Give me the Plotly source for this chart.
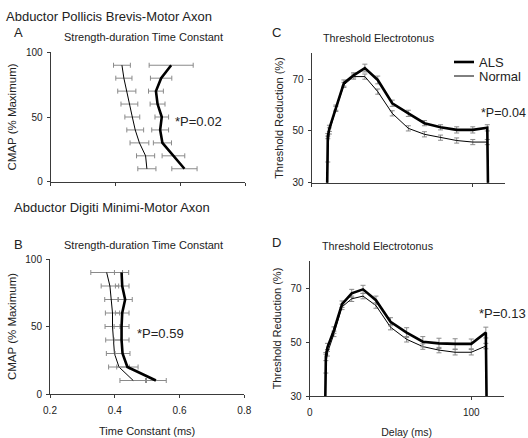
import plotly.graph_objects as go

W, H = 528, 438

# ---------------- data ----------------
cmap_levels = [10, 20, 30, 40, 50, 60, 70, 80, 90]

# Panel A: Abductor Pollicis Brevis, strength-duration time constant (ms)
apb_als = [0.613, 0.579, 0.545, 0.538, 0.543, 0.530, 0.525, 0.541, 0.572]
apb_als_sd = [0.039, 0.035, 0.028, 0.026, 0.021, 0.023, 0.023, 0.033, 0.068]
apb_norm = [0.497, 0.493, 0.474, 0.461, 0.452, 0.443, 0.435, 0.426, 0.420]
apb_norm_sd = [0.028, 0.028, 0.029, 0.026, 0.023, 0.026, 0.028, 0.025, 0.026]

# Panel B: Abductor Digiti Minimi, strength-duration time constant (ms)
adm_als = [0.527, 0.439, 0.424, 0.421, 0.421, 0.423, 0.432, 0.423, 0.421]
adm_als_sd = [0.032, 0.033, 0.023, 0.023, 0.023, 0.021, 0.022, 0.021, 0.022]
adm_norm = [0.457, 0.413, 0.399, 0.396, 0.393, 0.393, 0.390, 0.385, 0.375]
adm_norm_sd = [0.041, 0.032, 0.025, 0.024, 0.023, 0.022, 0.021, 0.027, 0.049]

# Threshold electrotonus delays (ms)
delays = [9, 10, 11, 15, 20, 26, 33, 41, 50, 60, 70, 80, 90, 100, 109, 110]

# Panel C: APB threshold electrotonus (% threshold reduction)
te_apb_als = [0, 48, 51, 59, 68.5, 71.5, 74.3, 69.7, 60.7, 56.8, 53.0, 51.4, 50.4, 50.4, 51.2, 0]
te_apb_als_sd = [0, 1.0, 1.2, 1.0, 1.2, 1.0, 1.5, 1.5, 1.2, 1.2, 1.0, 1.0, 1.2, 1.2, 1.2, 0]
te_apb_norm = [0, 43, 50, 58.5, 67.8, 71.0, 71.0, 65.2, 56.8, 51.0, 48.7, 47.4, 46.3, 45.7, 45.7, 0]
te_apb_norm_sd = [0, 5.0, 1.2, 1.0, 1.0, 1.0, 1.0, 1.0, 1.0, 1.0, 1.0, 1.0, 1.0, 1.0, 1.0, 0]

# Panel D: ADM threshold electrotonus (% threshold reduction)
te_adm_als = [0, 44.6, 48, 54.4, 64, 68, 69.5, 65.5, 57.5, 53.5, 50.1, 49.5, 49.3, 49.3, 53.5, 0]
te_adm_als_sd = [0, 1.5, 1.5, 1.2, 1.2, 1.5, 1.5, 1.5, 1.5, 1.8, 1.9, 1.9, 1.9, 1.8, 2.0, 0]
te_adm_norm = [0, 42, 46, 53, 63, 66, 67, 63.5, 55.5, 51.0, 48.3, 47.0, 46.2, 46.2, 48.5, 0]
te_adm_norm_sd = [0, 3.5, 1.2, 1.0, 1.0, 1.0, 1.0, 1.0, 1.0, 1.0, 1.0, 1.0, 1.0, 1.0, 1.0, 0]

groups = ["ALS", "Normal"]
p_values = ["*P=0.02", "*P=0.59", "*P=0.04", "*P=0.13"]

# ---------------- figure ----------------
FONT = "Liberation Sans, Arial, sans-serif"
ERR_COL = "#8a8a8a"
AX_COL = "#3a3a3a"
TXT = "#222"
THICK, THIN = 2.6, 1.0


def px(x):
    return x / W


def py(y):
    return 1 - y / H


fig = go.Figure()


def sd_trace(xv, yv, sd, width, axes, name, horizontal):
    xa, ya = axes
    kw = dict(type="data", array=sd, visible=True, color=ERR_COL, thickness=1, width=2.5)
    t = go.Scatter(
        x=xv, y=yv, mode="lines", name=name,
        line=dict(color="black", width=width),
        xaxis=xa, yaxis=ya, showlegend=False,
    )
    if horizontal:
        t.error_x = kw
    else:
        t.error_y = kw
    fig.add_trace(t)


# A
sd_trace(apb_norm, cmap_levels, apb_norm_sd, THIN, ("x", "y"), groups[1], True)
sd_trace(apb_als, cmap_levels, apb_als_sd, THICK, ("x", "y"), groups[0], True)
# B
sd_trace(adm_norm, cmap_levels, adm_norm_sd, THIN, ("x2", "y2"), groups[1], True)
sd_trace(adm_als, cmap_levels, adm_als_sd, THICK, ("x2", "y2"), groups[0], True)
# C
sd_trace(delays, te_apb_norm, te_apb_norm_sd, THIN, ("x3", "y3"), groups[1], False)
sd_trace(delays, te_apb_als, te_apb_als_sd, THICK, ("x3", "y3"), groups[0], False)
# D
sd_trace(delays, te_adm_norm, te_adm_norm_sd, THIN, ("x4", "y4"), groups[1], False)
sd_trace(delays, te_adm_als, te_adm_als_sd, THICK, ("x4", "y4"), groups[0], False)

common_ax = dict(
    showline=True, linecolor=AX_COL, linewidth=1, ticks="outside", ticklen=3,
    tickcolor=AX_COL, showgrid=False, zeroline=False, automargin=False,
    tickfont=dict(family=FONT, size=10, color=TXT),
)
tc_ticks = [0.2, 0.4, 0.6, 0.8]

fig.update_layout(
    width=W, height=H, margin=dict(l=0, r=0, t=0, b=0, autoexpand=False),
    paper_bgcolor="white", plot_bgcolor="white",
    font=dict(family=FONT, color=TXT),
    showlegend=False,
    xaxis=dict(domain=[px(50.7), px(245)], range=[0.2, 0.8], tickvals=tc_ticks,
               showticklabels=False, anchor="y", **common_ax),
    yaxis=dict(domain=[py(181.7), py(52.3)], range=[0, 100], tickvals=[0, 50, 100],
               anchor="x", ticklabelstandoff=2,
               title=dict(text="CMAP (% Maximum)", standoff=6,
                          font=dict(family=FONT, size=11.5)), **common_ax),
    xaxis2=dict(domain=[px(50), px(244.3)], range=[0.2, 0.8], tickvals=tc_ticks,
                ticktext=["0.2", "0.4", "0.6", "0.8"], anchor="y2", ticklabelstandoff=4,
                title=dict(text="Time Constant (ms)", standoff=12,
                           font=dict(family=FONT, size=11)), **common_ax),
    yaxis2=dict(domain=[py(394), py(259)], range=[0, 100], tickvals=[0, 50, 100],
                anchor="x2", ticklabelstandoff=2,
                title=dict(text="CMAP (% Maximum)", standoff=6,
                           font=dict(family=FONT, size=11.5)), **common_ax),
    xaxis3=dict(domain=[px(311.7), px(505)], range=[0, 120], tickvals=[0, 100],
                showticklabels=False, anchor="y3", **common_ax),
    yaxis3=dict(domain=[py(182.7), py(53.3)], range=[30, 80], tickvals=[30, 50, 70],
                anchor="x3", ticklabelstandoff=2,
                title=dict(text="Threshold Reduction (%)", standoff=6,
                           font=dict(family=FONT, size=11)), **common_ax),
    xaxis4=dict(domain=[px(309.7), px(503.6)], range=[0, 120], tickvals=[0, 100],
                anchor="y4", ticklabelstandoff=4,
                title=dict(text="Delay (ms)", standoff=12,
                           font=dict(family=FONT, size=10.5)), **common_ax),
    yaxis4=dict(domain=[py(396), py(261)], range=[30, 80], tickvals=[30, 50, 70],
                anchor="x4", ticklabelstandoff=2,
                title=dict(text="Threshold Reduction (%)", standoff=6,
                           font=dict(family=FONT, size=11)), **common_ax),
)


def label(text, x, y, size, anchor="left"):
    fig.add_annotation(text=text, x=px(x), y=py(y), xref="paper", yref="paper",
                       xanchor=anchor, yanchor="middle", showarrow=False,
                       font=dict(family=FONT, size=size, color=TXT))


label("Abductor Pollicis Brevis-Motor Axon", 4, 16, 13)
label("Abductor Digiti Minimi-Motor Axon", 12, 207, 13)
label("A", 18, 33, 13, "center")
label("B", 18, 244, 13, "center")
label("C", 276, 33, 13, "center")
label("D", 276, 242, 13, "center")
label("Strength-duration Time Constant", 62, 37, 11)
label("Strength-duration Time Constant", 62, 245, 11)
label("Threshold Electrotonus", 321, 38, 10.8)
label("Threshold Electrotonus", 320, 246, 10.8)
label(p_values[0], 172.5, 122, 13)
label(p_values[1], 135, 333, 13)
label(p_values[2], 479, 113, 12.5)
label(p_values[3], 477, 313, 13)

# legend key for panel C (ALS thick, Normal thin)
for name, lw, yk in zip(groups, [THICK, THIN], [62, 76]):
    fig.add_shape(type="line", xref="paper", yref="paper",
                  x0=px(454), x1=px(474), y0=py(yk), y1=py(yk),
                  line=dict(color="black", width=lw))
    label(name, 477, yk, 13)

fig.write_html(
    "out.html",
    config={"displayModeBar": False},
    post_script="document.body.style.margin='0px';document.body.style.overflow='hidden';",
)
